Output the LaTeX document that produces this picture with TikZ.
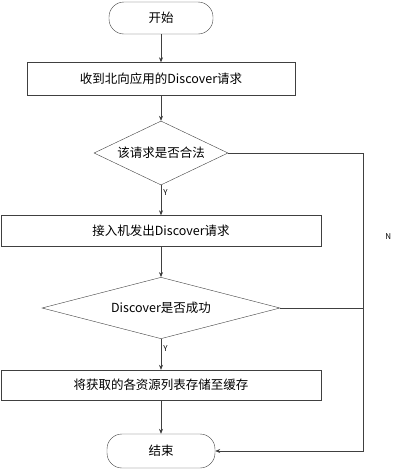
\documentclass[tikz,border=0pt]{standalone}
\usepackage{fontspec}
\setmainfont{Noto Sans CJK SC}
\usetikzlibrary{shapes.geometric,positioning,arrows.meta}

\tikzset{
  term/.style={draw=black!75, rounded corners=15pt, minimum width=104pt, minimum height=32pt},
  proc/.style={draw=black!75, minimum height=31pt, inner sep=2pt},
  cond/.style={draw=black!75, diamond, shape aspect=2, inner sep=0pt},
  line/.style={draw=black!75, line width=0.6pt},
  lbl/.style={font=\footnotesize, inner sep=2pt}
}

\begin{document}
\begin{tikzpicture}[x=1pt,y=-1pt,node distance=70pt,on grid,auto,>={Stealth[length=5pt,width=4pt]},font=\fontsize{12.5}{14}\selectfont]
\useasboundingbox (0,0) rectangle (414,469);
\node[term] (start) at (161,18) {开始};
\node[proc, minimum width=268pt, minimum height=33pt] (recv) [below=61pt of start] {收到北向应用的Discover请求};
\node[cond, minimum width=134pt, minimum height=64pt] (legal) [below=74pt of recv] {该请求是否合法};
\node[proc, minimum width=320pt] (send) [below=78pt of legal] {接入机发出Discover请求};
\node[cond, minimum width=238pt, minimum height=60pt] (ok) [below=77pt of send] {Discover是否成功};
\node[proc, minimum width=320pt, minimum height=30pt] (store) [below=77pt of ok] {将获取的各资源列表存储至缓存};
\node[term, minimum width=108pt, minimum height=34pt] (done) [below=66pt of store] {结束};
\coordinate (rx) at (363,0);
\path[->, line]
  (start) edge (recv)
  (recv) edge (legal)
  (legal) edge node[lbl, pos=0.25] {Y} (send)
  (send) edge (ok)
  (ok) edge node[lbl, pos=0.3] {Y} (store)
  (store) edge (done);
\draw[->, line] (legal.east) -- (legal.east -| rx) -- node[lbl, pos=0.28, right=20pt] {N} (rx |- done.east) -- (done.east);
\draw[line] (ok.east) -- (ok.east -| rx);
\end{tikzpicture}
\end{document}
